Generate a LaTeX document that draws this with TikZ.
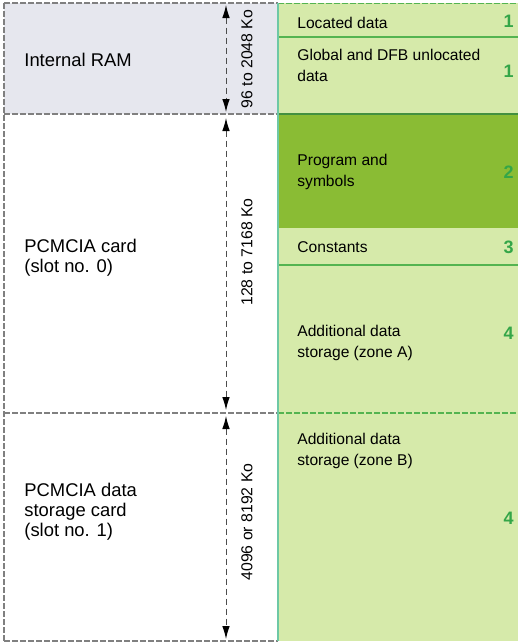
\documentclass[tikz,border=0pt]{standalone}
\usepackage{fontspec}
\setmainfont{Liberation Sans}
\usetikzlibrary{positioning, arrows.meta}

\definecolor{ramgray}{RGB}{230,231,238}
\definecolor{datagreen}{RGB}{214,234,170}
\definecolor{proggreen}{RGB}{138,188,52}
\definecolor{sepgreen}{RGB}{84,180,80}
\definecolor{numgreen}{RGB}{52,166,72}
\definecolor{divteal}{RGB}{110,200,165}

\begin{document}
\begin{tikzpicture}[x=0.5pt, y=-0.5pt,
  region/.style={rectangle, inner sep=0pt, outer sep=0pt, anchor=north west},
  lbl/.style={anchor=west, align=left, inner sep=0pt, font=\fontsize{7.8}{10.5}\selectfont},
  biglbl/.style={lbl, font=\fontsize{9.2}{10}\selectfont},
  zonenum/.style={anchor=east, inner sep=0pt, text=numgreen, font=\fontsize{9}{10}\selectfont\bfseries},
  sizelbl/.style={rotate=90, inner sep=0pt, font=\fontsize{7.9}{10.5}\selectfont},
  sizeline/.style={{Latex[length=6.5pt,width=3.8pt,color=black]}-{Latex[length=6.5pt,width=3.8pt,color=black]}, densely dashed, line width=0.5pt, black!70},
  border/.style={dash pattern=on 3pt off 1pt, gray, line width=0.6pt},
  sep/.style={sepgreen, line width=0.6pt}]

\useasboundingbox (0,0) rectangle (518,644);

% left column
\node (ram) [region, fill=ramgray, minimum width=137pt, minimum height=55.5pt] at (4,3) {};
\node (card) [region, minimum width=137pt, minimum height=149.5pt, below=0pt of ram] {};
\node (store) [region, minimum width=137pt, minimum height=114pt, below=0pt of card] {};

% right column
\node (located) [region, fill=datagreen, minimum width=120pt, minimum height=17pt] at (278,3) {};
\node (global) [region, fill=datagreen, minimum width=120pt, minimum height=38.5pt, below=0pt of located] {};
\node (program) [region, fill=proggreen, minimum width=120pt, minimum height=57pt, below=0pt of global] {};
\node (constants) [region, fill=datagreen, minimum width=120pt, minimum height=18.5pt, below=0pt of program] {};
\node (zonea) [region, fill=datagreen, minimum width=120pt, minimum height=74pt, below=0pt of constants] {};
\node (zoneb) [region, fill=datagreen, minimum width=120pt, minimum height=114pt, below=0pt of zonea] {};

% labels
\node (ramtxt) [biglbl] at (24,60) {Internal RAM};
\node (cardtxt) [biglbl] at (24,258) {PCMCIA card\\(slot no. 0)};
\node (storetxt) [biglbl] at (24,512) {PCMCIA data\\storage card\\(slot no. 1)};

\node (locatedtxt) [lbl] at (297,23) {Located data};
\node (globaltxt) [lbl] at (297,65) {Global and DFB unlocated\\data};
\node (programtxt) [lbl] at (297,172) {Program and\\symbols};
\node (constantstxt) [lbl] at (297,247) {Constants};
\node (zoneatxt) [lbl] at (297,343) {Additional data\\storage (zone A)};
\node (zonebtxt) [lbl] at (297,451) {Additional data\\storage (zone B)};

\node (n1) [zonenum] at (514,21) {1};
\node (n2) [zonenum] at (514,71) {1};
\node (n3) [zonenum] at (514,172) {2};
\node (n4) [zonenum] at (514,247) {3};
\node (n5) [zonenum] at (514,333) {4};
\node (n6) [zonenum] at (514,518) {4};

% borders
\draw[border] (ram.north west) -- (store.south west);
\draw[border] (ram.north west) -- (ram.north east);
\draw[border] (ram.south west) -- (ram.south east);
\draw[border] (card.south west) -- (card.south east);
\draw[border] (store.south west) -- (store.south east);
\draw[sepgreen, dash pattern=on 3pt off 1pt, line width=0.5pt] (located.north west) -- (located.north east);
\draw[sep] (located.south west) -- (located.south east);
\draw[sepgreen!80!black, line width=0.8pt] (global.south west) -- (global.south east);
\draw[sep] (constants.south west) -- (constants.south east);
\draw[sepgreen, dash pattern=on 3pt off 1pt, line width=0.6pt] (zonea.south west) -- (zonea.south east);
\draw[divteal, line width=0.7pt] (located.north west) -- (zoneb.south west);

% sizes
\coordinate (d1a) at (226,5);
\coordinate (d1b) at (226,112);
\coordinate (d2a) at (226,118);
\coordinate (d2b) at (226,410);
\coordinate (d3a) at (226,416);
\coordinate (d3b) at (226,639);
\draw[sizeline] (d1a) -- (d1b);
\draw[sizeline] (d2a) -- (d2b);
\draw[sizeline] (d3a) -- (d3b);
\node (s1) [sizelbl] at (247,59) {96 to 2048 Ko};
\node (s2) [sizelbl] at (247,252) {128 to 7168 Ko};
\node (s3) [sizelbl] at (247,522) {4096 or 8192 Ko};
\end{tikzpicture}
\end{document}
